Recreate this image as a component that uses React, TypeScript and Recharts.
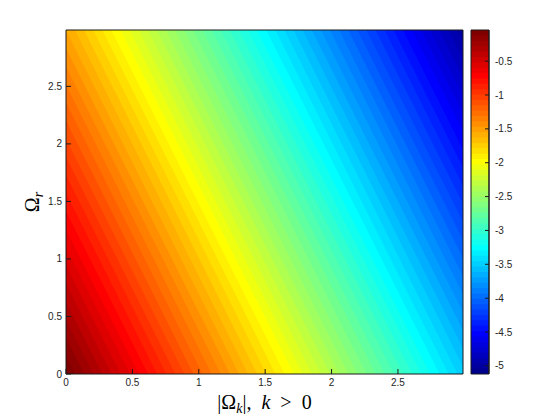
import React from 'react';
import { ComposedChart, Area, XAxis, YAxis, ReferenceArea, Label } from 'recharts';

// ---- data ----
const xTicks = [0, 0.5, 1, 1.5, 2, 2.5];
const yTicks = [0, 0.5, 1, 1.5, 2, 2.5];
const axisMax = 2.99;
const colorbarTicks = [-0.5, -1, -1.5, -2, -2.5, -3, -3.5, -4, -4.5, -5];
const colorbarRange = [-5.12, -0.04];
const levelCount = 64;
// field values read at three corners of the plot (x, y, value)
const probeX = [0, 2.99, 0];
const probeY = [0, 0, 2.99];
const probeValue = [-0.04, -3.5, -1.55];

// ---- derived (plane through the three read values) ----
const F0 = probeValue[0];
const SX = (probeValue[1] - F0) / probeX[1];
const SY = (probeValue[2] - F0) / probeY[2];
const step = (colorbarRange[1] - colorbarRange[0]) / levelCount;
const levels = Array.from({ length: levelCount }, (_, i) => colorbarRange[0] + i * step);

function jetColor(k: number) {
  // MATLAB jet(64), row k (1-based)
  const u = (j: number) => (j < 1 || j > 47 ? 0 : j <= 16 ? j / 16 : j <= 31 ? 1 : (48 - j) / 16);
  const c = (v: number) => Math.round(v * 255);
  return `rgb(${c(u(k - 24))},${c(u(k - 8))},${c(u(k + 8))})`;
}
const colors = levels.map((_, i) => jetColor(i + 1));

// contour line of level L: y where field == L
const lineY = (L: number, x: number) => (L - F0 - SX * x) / SY;
const fieldRows = [0, axisMax].map((x) => {
  const row: Record<string, number> = { x };
  levels.forEach((L, i) => {
    row[`b${i}`] = i === 0 ? lineY(L - 1, x) : lineY(L, x);
  });
  return row;
});

const tickStyle = { fontSize: 10, fill: '#262626', fontFamily: 'Liberation Sans, Arial, sans-serif' };
const lineColor = '#1a1a1a';
const serif = 'Liberation Serif, DejaVu Serif, serif';

const XTitle = (props: any) => {
  const vb = props.viewBox || { x: 66, y: 374, width: 397 };
  const cx = vb.x + vb.width / 2;
  return (
    <text x={cx} y={vb.y + 35} textAnchor="middle" fontFamily={serif} fontSize={20} fill="#000" style={{ whiteSpace: 'pre' }}>
      |Ω<tspan fontStyle="italic" fontSize={14} dy={4}>k</tspan>
      <tspan dy={-4}>{'|,  '}</tspan>
      <tspan fontStyle="italic">k</tspan>
      <tspan>{'  >  0'}</tspan>
    </text>
  );
};

const YTitle = (props: any) => {
  const vb = props.viewBox || { x: 0, y: 30, width: 66, height: 344 };
  const cy = vb.y + vb.height / 2;
  const bx = 39;
  return (
    <text x={bx} y={cy} transform={`rotate(-90 ${bx} ${cy})`} textAnchor="middle" fontFamily={serif} fontSize={20} fill="#000">
      Ω<tspan fontStyle="italic" fontSize={14} dy={4}>r</tspan>
    </text>
  );
};

export default function App() {
  return (
    <div style={{ position: 'absolute', left: 0, top: 0, width: 560, height: 420, background: '#fff' }}>
      <div style={{ position: 'absolute', left: 0, top: 0 }}>
        <ComposedChart width={560} height={420} data={fieldRows} margin={{ top: 29, right: 96, bottom: 16, left: 0 }}>
          {levels.map((_, i) => (
            <Area
              key={i}
              xAxisId="b"
              yAxisId="l"
              dataKey={`b${i}`}
              type="linear"
              fill={colors[i]}
              fillOpacity={1}
              stroke="none"
              baseValue={-100}
              dot={false}
              activeDot={false}
              isAnimationActive={false}
            />
          ))}
          <XAxis
            xAxisId="b"
            dataKey="x"
            type="number"
            domain={[0, axisMax]}
            allowDataOverflow
            ticks={xTicks}
            interval={0}
            height={30}
            tickSize={-5}
            tickMargin={10}
            tick={tickStyle}
            stroke={lineColor}
          >
            <Label content={<XTitle />} />
          </XAxis>
          <XAxis
            xAxisId="t"
            orientation="top"
            type="number"
            domain={[0, axisMax]}
            allowDataOverflow
            ticks={xTicks}
            interval={0}
            height={1}
            tickSize={-5}
            tick={false}
            stroke={lineColor}
          />
          <YAxis
            yAxisId="l"
            type="number"
            domain={[0, axisMax]}
            allowDataOverflow
            ticks={yTicks}
            interval={0}
            width={66}
            tickSize={-5}
            tickMargin={9}
            tick={tickStyle}
            stroke={lineColor}
          >
            <Label content={<YTitle />} />
          </YAxis>
          <YAxis
            yAxisId="r"
            orientation="right"
            type="number"
            domain={[0, axisMax]}
            allowDataOverflow
            ticks={yTicks}
            interval={0}
            width={1}
            tickSize={-5}
            tick={false}
            stroke={lineColor}
          />
        </ComposedChart>
      </div>
      <div style={{ position: 'absolute', left: 0, top: 0 }}>
        <ComposedChart width={560} height={420} data={fieldRows} margin={{ top: 30, right: 31, bottom: 46, left: 471 }}>
          <XAxis xAxisId="c" type="number" dataKey="x" domain={[0, 1]} hide />
          <YAxis
            yAxisId="c"
            orientation="right"
            type="number"
            domain={colorbarRange}
            allowDataOverflow
            ticks={colorbarTicks}
            interval={0}
            width={40}
            tickSize={-4}
            tickMargin={10}
            tick={tickStyle}
            stroke={lineColor}
          />
          {levels
            .map((L, i) => (
              <ReferenceArea
                key={i}
                xAxisId="c"
                yAxisId="c"
                y1={colorbarRange[0]}
                y2={L + step}
                fill={colors[i]}
                fillOpacity={1}
                stroke="none"
              />
            ))
            .reverse()}
          <ReferenceArea
            xAxisId="c"
            yAxisId="c"
            y1={colorbarRange[0]}
            y2={colorbarRange[1]}
            fill="none"
            stroke={lineColor}
            strokeWidth={1}
          />
        </ComposedChart>
      </div>
    </div>
  );
}
